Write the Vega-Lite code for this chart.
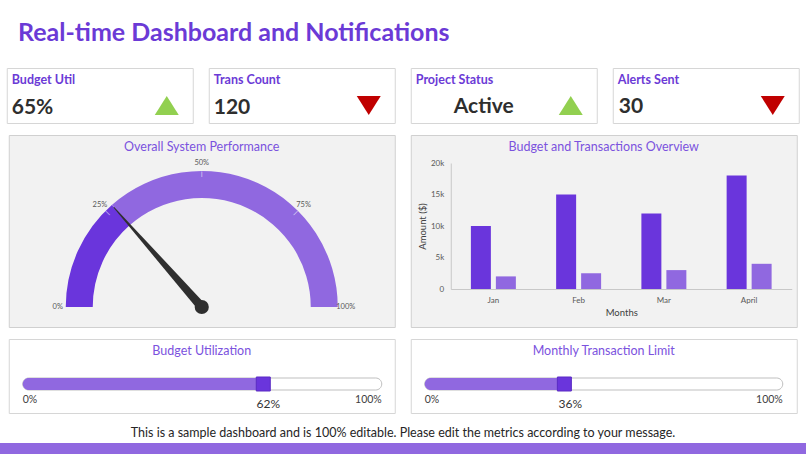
{
  "$schema": "https://vega.github.io/schema/vega-lite/v6.json",
  "background": "white",
  "padding": {"top": 20, "left": 0, "right": 0, "bottom": 0},
  "config": {"font": "Lato", "view": {"stroke": null}},
  "title": {"text": "Real-time Dashboard and Notifications", "anchor": "start", "dx": 18, "fontSize": 25, "fontWeight": "bold", "color": "#6b3ad6", "offset": 22, "font": "Lato"},
  "spacing": 10,
  "center": true,
  "resolve": {"scale": {"color": "independent", "shape": "independent"}},
  "vconcat": [
    {
      "spacing": 14,
      "resolve": {"scale": {"color": "independent", "shape": "independent"}},
      "hconcat": [
        {
          "width": 186, "height": 55,
          "view": {"fill": "white", "stroke": "#d6d6d6"},
          "data": {"values": [{"metric": "Budget Util", "value": "65%", "trend": "up"}]},
          "layer": [
            {"mark": {"type": "text", "align": "left", "baseline": "alphabetic", "x": 5, "y": 15.5, "fontSize": 12.5, "fontWeight": "bold", "color": "#6b3ad6"}, "encoding": {"text": {"field": "metric", "type": "nominal"}}},
            {"mark": {"type": "text", "align": "left", "baseline": "alphabetic", "x": 5, "y": 46, "fontSize": 21, "fontWeight": "bold", "color": "#2e2e2e"}, "encoding": {"text": {"field": "value", "type": "nominal"}}},
            {"mark": {"type": "point", "filled": true, "opacity": 1, "x": 160, "y": 37.5, "size": 576, "strokeWidth": 0}, "encoding": {
              "shape": {"field": "trend", "type": "nominal", "scale": {"domain": ["up", "down"], "range": ["M0,-0.8L1,0.8L-1,0.8Z", "M-1,-0.8L1,-0.8L0,0.8Z"]}, "legend": null},
              "color": {"field": "trend", "type": "nominal", "scale": {"domain": ["up", "down"], "range": ["#92d050", "#c00000"]}, "legend": null}}}
          ]
        },
        {
          "width": 186, "height": 55,
          "view": {"fill": "white", "stroke": "#d6d6d6"},
          "data": {"values": [{"metric": "Trans Count", "value": "120", "trend": "down"}]},
          "layer": [
            {"mark": {"type": "text", "align": "left", "baseline": "alphabetic", "x": 5, "y": 15.5, "fontSize": 12.5, "fontWeight": "bold", "color": "#6b3ad6"}, "encoding": {"text": {"field": "metric", "type": "nominal"}}},
            {"mark": {"type": "text", "align": "left", "baseline": "alphabetic", "x": 5, "y": 46, "fontSize": 21, "fontWeight": "bold", "color": "#2e2e2e"}, "encoding": {"text": {"field": "value", "type": "nominal"}}},
            {"mark": {"type": "point", "filled": true, "opacity": 1, "x": 160, "y": 37.5, "size": 576, "strokeWidth": 0}, "encoding": {
              "shape": {"field": "trend", "type": "nominal", "scale": {"domain": ["up", "down"], "range": ["M0,-0.8L1,0.8L-1,0.8Z", "M-1,-0.8L1,-0.8L0,0.8Z"]}, "legend": null},
              "color": {"field": "trend", "type": "nominal", "scale": {"domain": ["up", "down"], "range": ["#92d050", "#c00000"]}, "legend": null}}}
          ]
        },
        {
          "width": 186, "height": 55,
          "view": {"fill": "white", "stroke": "#d6d6d6"},
          "data": {"values": [{"metric": "Project Status", "value": "Active", "trend": "up"}]},
          "layer": [
            {"mark": {"type": "text", "align": "left", "baseline": "alphabetic", "x": 5, "y": 15.5, "fontSize": 12.5, "fontWeight": "bold", "color": "#6b3ad6"}, "encoding": {"text": {"field": "metric", "type": "nominal"}}},
            {"mark": {"type": "text", "align": "center", "baseline": "alphabetic", "x": 73, "y": 45, "fontSize": 21, "fontWeight": "bold", "color": "#2e2e2e"}, "encoding": {"text": {"field": "value", "type": "nominal"}}},
            {"mark": {"type": "point", "filled": true, "opacity": 1, "x": 160, "y": 37.5, "size": 576, "strokeWidth": 0}, "encoding": {
              "shape": {"field": "trend", "type": "nominal", "scale": {"domain": ["up", "down"], "range": ["M0,-0.8L1,0.8L-1,0.8Z", "M-1,-0.8L1,-0.8L0,0.8Z"]}, "legend": null},
              "color": {"field": "trend", "type": "nominal", "scale": {"domain": ["up", "down"], "range": ["#92d050", "#c00000"]}, "legend": null}}}
          ]
        },
        {
          "width": 186, "height": 55,
          "view": {"fill": "white", "stroke": "#d6d6d6"},
          "data": {"values": [{"metric": "Alerts Sent", "value": "30", "trend": "down"}]},
          "layer": [
            {"mark": {"type": "text", "align": "left", "baseline": "alphabetic", "x": 5, "y": 15.5, "fontSize": 12.5, "fontWeight": "bold", "color": "#6b3ad6"}, "encoding": {"text": {"field": "metric", "type": "nominal"}}},
            {"mark": {"type": "text", "align": "left", "baseline": "alphabetic", "x": 6, "y": 45, "fontSize": 21, "fontWeight": "bold", "color": "#2e2e2e"}, "encoding": {"text": {"field": "value", "type": "nominal"}}},
            {"mark": {"type": "point", "filled": true, "opacity": 1, "x": 160, "y": 37.5, "size": 576, "strokeWidth": 0}, "encoding": {
              "shape": {"field": "trend", "type": "nominal", "scale": {"domain": ["up", "down"], "range": ["M0,-0.8L1,0.8L-1,0.8Z", "M-1,-0.8L1,-0.8L0,0.8Z"]}, "legend": null},
              "color": {"field": "trend", "type": "nominal", "scale": {"domain": ["up", "down"], "range": ["#92d050", "#c00000"]}, "legend": null}}}
          ]
        }
      ]
    },
    {
      "spacing": 14,
      "resolve": {"scale": {"color": "independent", "shape": "independent"}},
      "hconcat": [
        {
          "width": 386, "height": 192,
          "view": {"fill": "#f2f2f2", "stroke": "#d0d0d0"},
          "layer": [
            {"data": {"values": [{"title": "Overall System Performance"}]}, "mark": {"type": "text", "y": 12, "baseline": "middle", "fontSize": 12.5, "color": "#7b52de"}, "encoding": {"text": {"field": "title", "type": "nominal"}}},
            {"data": {"values": [{"part": "achieved", "from": 0, "to": 27}, {"part": "remaining", "from": 27, "to": 100}]},
             "mark": {"type": "arc", "radius": 136, "radius2": 109, "y": 172},
             "encoding": {
               "theta": {"field": "from", "type": "quantitative", "scale": {"type": "linear", "domain": [0, 100], "range": [-1.5707963, 1.5707963]}},
               "theta2": {"field": "to"},
               "color": {"field": "part", "type": "nominal", "scale": {"domain": ["achieved", "remaining"], "range": ["#6a35dc", "#9068e0"]}, "legend": null}
             }},
            {"data": {"values": [{"t": 25}, {"t": 50}, {"t": 75}]},
             "mark": {"type": "text", "text": "|", "radius": 133, "y": 172, "fontSize": 6, "color": "white", "baseline": "middle", "align": "center"},
             "encoding": {
               "theta": {"field": "t", "type": "quantitative", "scale": {"type": "linear", "domain": [0, 100], "range": [-1.5707963, 1.5707963]}},
               "angle": {"field": "t", "type": "quantitative", "scale": {"domain": [0, 100], "range": [-90, 90]}}
             }},
            {"data": {"values": [{"t": 0, "l": "0%"}, {"t": 25, "l": "25%"}, {"t": 50, "l": "50%"}, {"t": 75, "l": "75%"}, {"t": 100, "l": "100%"}]},
             "mark": {"type": "text", "radius": 144, "y": 172, "fontSize": 7.5, "color": "#595959", "baseline": "middle", "align": "center"},
             "encoding": {
               "theta": {"field": "t", "type": "quantitative", "scale": {"type": "linear", "domain": [0, 100], "range": [-1.5707963, 1.5707963]}},
               "text": {"field": "l", "type": "nominal"}
             }},
            {"data": {"values": [{"value": 27}]},
             "mark": {"type": "point", "shape": "M-0.034,0L-0.004,-1L0.004,-1L0.034,0Z", "size": 70756, "filled": true, "opacity": 1, "strokeWidth": 0, "color": "#2f2f2f", "y": 172},
             "encoding": {
               "angle": {"field": "value", "type": "quantitative", "scale": {"domain": [0, 100], "range": [-90, 90]}}
             }},
            {"data": {"values": [{"value": 27}]},
             "mark": {"type": "point", "shape": "circle", "size": 201, "filled": true, "opacity": 1, "strokeWidth": 0, "color": "#2f2f2f", "y": 172}}
          ]
        },
        {
          "width": 386, "height": 192,
          "view": {"fill": "#f2f2f2", "stroke": "#d0d0d0"},
          "layer": [
            {"data": {"values": [{"title": "Budget and Transactions Overview"}]}, "mark": {"type": "text", "y": 12, "baseline": "middle", "fontSize": 12.5, "color": "#7b52de"}, "encoding": {"text": {"field": "title", "type": "nominal"}}},
            {"data": {"values": [
              {"month": "Jan", "series": "Budget", "amount": 10000},
              {"month": "Jan", "series": "Transactions", "amount": 2000},
              {"month": "Feb", "series": "Budget", "amount": 15000},
              {"month": "Feb", "series": "Transactions", "amount": 2500},
              {"month": "Mar", "series": "Budget", "amount": 12000},
              {"month": "Mar", "series": "Transactions", "amount": 3000},
              {"month": "April", "series": "Budget", "amount": 18000},
              {"month": "April", "series": "Transactions", "amount": 4000}
            ]},
             "mark": {"type": "bar"},
             "encoding": {
               "x": {"field": "month", "type": "nominal", "sort": ["Jan", "Feb", "Mar", "April"], "scale": {"range": [40, 381], "paddingInner": 0, "paddingOuter": 0},
                     "axis": {"title": "Months", "labelAngle": 0, "ticks": false, "offset": -38, "labelPadding": 7, "labelFontSize": 8, "labelColor": "#595959", "titleFontSize": 9.5, "titleFontWeight": "normal", "titleColor": "#404040", "titlePadding": 3, "domainColor": "#c8c8c8"}},
               "xOffset": {"field": "series", "type": "nominal", "sort": ["Budget", "Transactions"], "scale": {"paddingInner": 0.2, "paddingOuter": 0.806}},
               "y": {"field": "amount", "type": "quantitative", "scale": {"domain": [0, 20000], "range": [154, 28]},
                     "axis": {"title": "Amount ($)", "values": [0, 5000, 10000, 15000, 20000], "format": "~s", "labelExpr": "datum.value == 0 ? '0' : datum.label", "grid": false, "ticks": false, "offset": -40, "labelPadding": 7, "labelFontSize": 8, "labelColor": "#595959", "titleFontSize": 9.5, "titleFontWeight": "normal", "titleColor": "#404040", "titlePadding": 3, "domainColor": "#c8c8c8"}},
               "color": {"field": "series", "type": "nominal", "scale": {"domain": ["Budget", "Transactions"], "range": ["#6a35dc", "#9068e0"]}, "legend": null}
             }}
          ]
        }
      ]
    },
    {
      "spacing": 13,
      "center": true,
      "vconcat": [
        {
          "spacing": 14,
          "hconcat": [
            {
              "width": 386, "height": 74,
              "view": {"fill": "white", "stroke": "#d6d6d6"},
              "data": {"values": [{"metric": "Budget Utilization", "start": 0, "end": 100, "level": 67, "label": "62%"}]},
              "encoding": {"x": {"field": "level", "type": "quantitative", "scale": {"domain": [0, 100], "range": [14, 373]}, "axis": null}},
              "layer": [
                {"mark": {"type": "text", "y": 12, "baseline": "middle", "fontSize": 12.5, "color": "#7b52de"}, "encoding": {"x": null, "text": {"field": "metric", "type": "nominal"}}},
                {"mark": {"type": "rect", "y": 39, "y2": 51, "fill": "white", "stroke": "#bfbfbf", "strokeWidth": 1, "cornerRadius": 6},
                 "encoding": {"x": {"field": "start", "type": "quantitative"}, "x2": {"field": "end"}}},
                {"mark": {"type": "rect", "y": 39, "y2": 51, "fill": "#9068e0", "cornerRadiusTopLeft": 6, "cornerRadiusBottomLeft": 6},
                 "encoding": {"x": {"field": "start", "type": "quantitative"}, "x2": {"field": "level"}}},
                {"mark": {"type": "point", "shape": "square", "filled": true, "opacity": 1, "size": 196, "y": 45, "color": "#6a35dc", "stroke": "#5a2bc4", "strokeWidth": 1}},
                {"mark": {"type": "text", "y": 61, "align": "left", "baseline": "middle", "fontSize": 10.5, "color": "#404040", "text": "0%"},
                 "encoding": {"x": {"field": "start", "type": "quantitative"}}},
                {"mark": {"type": "text", "y": 61, "align": "right", "baseline": "middle", "fontSize": 10.5, "color": "#404040", "text": "100%"},
                 "encoding": {"x": {"field": "end", "type": "quantitative"}}},
                {"mark": {"type": "text", "y": 65, "align": "center", "baseline": "middle", "fontSize": 12, "color": "#333333", "dx": 5},
                 "encoding": {"text": {"field": "label", "type": "nominal"}}}
              ]
            },
            {
              "width": 386, "height": 74,
              "view": {"fill": "white", "stroke": "#d6d6d6"},
              "data": {"values": [{"metric": "Monthly Transaction Limit", "start": 0, "end": 100, "level": 39, "label": "36%"}]},
              "encoding": {"x": {"field": "level", "type": "quantitative", "scale": {"domain": [0, 100], "range": [14, 372]}, "axis": null}},
              "layer": [
                {"mark": {"type": "text", "y": 12, "baseline": "middle", "fontSize": 12.5, "color": "#7b52de"}, "encoding": {"x": null, "text": {"field": "metric", "type": "nominal"}}},
                {"mark": {"type": "rect", "y": 39, "y2": 51, "fill": "white", "stroke": "#bfbfbf", "strokeWidth": 1, "cornerRadius": 6},
                 "encoding": {"x": {"field": "start", "type": "quantitative"}, "x2": {"field": "end"}}},
                {"mark": {"type": "rect", "y": 39, "y2": 51, "fill": "#9068e0", "cornerRadiusTopLeft": 6, "cornerRadiusBottomLeft": 6},
                 "encoding": {"x": {"field": "start", "type": "quantitative"}, "x2": {"field": "level"}}},
                {"mark": {"type": "point", "shape": "square", "filled": true, "opacity": 1, "size": 196, "y": 45, "color": "#6a35dc", "stroke": "#5a2bc4", "strokeWidth": 1}},
                {"mark": {"type": "text", "y": 61, "align": "left", "baseline": "middle", "fontSize": 10.5, "color": "#404040", "text": "0%"},
                 "encoding": {"x": {"field": "start", "type": "quantitative"}}},
                {"mark": {"type": "text", "y": 61, "align": "right", "baseline": "middle", "fontSize": 10.5, "color": "#404040", "text": "100%"},
                 "encoding": {"x": {"field": "end", "type": "quantitative"}}},
                {"mark": {"type": "text", "y": 65, "align": "center", "baseline": "middle", "fontSize": 12, "color": "#333333", "dx": 6},
                 "encoding": {"text": {"field": "label", "type": "nominal"}}}
              ]
            }
          ]
        },
        {
          "width": 806, "height": 11,
          "view": {"fill": "#9068e0", "stroke": null},
          "title": {"text": "This is a sample dashboard and is 100% editable. Please edit the metrics according to your message.", "fontSize": 12.5, "fontWeight": "normal", "color": "#262626", "anchor": "middle", "offset": 3, "font": "Lato"},
          "data": {"values": [{"note": ""}]},
          "mark": {"type": "text"},
          "encoding": {"text": {"field": "note", "type": "nominal"}}
        }
      ]
    }
  ]
}
